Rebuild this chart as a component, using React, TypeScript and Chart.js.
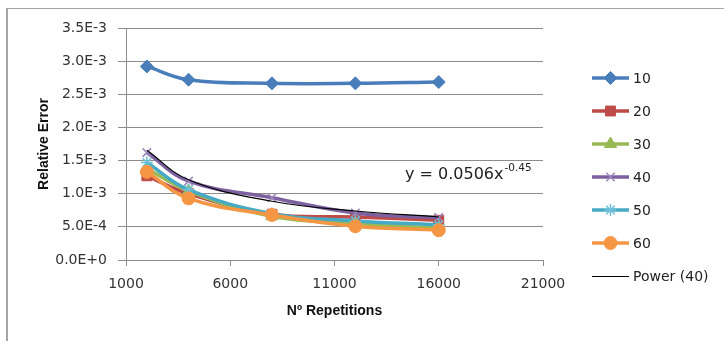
import React, { useEffect, useRef } from 'react';
import { Chart, registerables } from 'chart.js';
import { drawPoint } from 'chart.js/helpers';

Chart.register(...registerables);

const repetitions = [2000, 4000, 8000, 12000, 16000];
const series10 = [2.92e-3, 2.72e-3, 2.665e-3, 2.665e-3, 2.685e-3];
const series20 = [1.27e-3, 1.0e-3, 0.69e-3, 0.65e-3, 0.6e-3];
const series30 = [1.38e-3, 1.04e-3, 0.66e-3, 0.55e-3, 0.48e-3];
const series40 = [1.62e-3, 1.19e-3, 0.94e-3, 0.71e-3, 0.64e-3];
const series50 = [1.47e-3, 1.06e-3, 0.7e-3, 0.59e-3, 0.53e-3];
const series60 = [1.33e-3, 0.93e-3, 0.68e-3, 0.51e-3, 0.45e-3];
const powerTrend40 = [1.655e-3, 1.211e-3, 0.886e-3, 0.739e-3, 0.649e-3];

const seriesLabels = ['10', '20', '30', '40', '50', '60'];
const trendLabel = 'Power (40)';
const trendEquation = 'y = 0.0506x';
const trendExponent = '-0.45';
const xTitle = 'Nº Repetitions';
const yTitle = 'Relative Error';

const colors = ['#4A7EBB', '#BE4B48', '#98B954', '#7D60A0', '#46AAC5', '#F59645'];
const styles = [
  { pointStyle: 'rectRot', radius: 6.5 },
  { pointStyle: 'rect', radius: 7 },
  { pointStyle: 'triangle', radius: 7 },
  { pointStyle: 'crossRot', radius: 6 },
  { pointStyle: 'star', radius: 6 },
  { pointStyle: 'circle', radius: 6.5 },
];

const toXY = (vals: number[]) => vals.map((v, i) => ({ x: repetitions[i], y: v }));

const legendPlugin = {
  id: 'xlLegend',
  afterDraw(chart: any) {
    const ctx = chart.ctx;
    ctx.save();
    ctx.font = '14px "DejaVu Sans"';
    ctx.textBaseline = 'middle';
    ctx.textAlign = 'left';
    chart.data.datasets.forEach((ds: any, i: number) => {
      const y = 78 + i * 33 + (i === 6 ? 0.5 : 0);
      ctx.strokeStyle = ds.borderColor;
      ctx.lineWidth = ds.borderWidth;
      ctx.beginPath();
      ctx.moveTo(592, y);
      ctx.lineTo(629, y);
      ctx.stroke();
      if (ds.pointRadius > 0) {
        ctx.fillStyle = ds.pointBackgroundColor;
        ctx.strokeStyle = ds.pointBorderColor;
        ctx.lineWidth = ds.pointBorderWidth;
        drawPoint(ctx, { pointStyle: ds.pointStyle, radius: ds.pointRadius, borderWidth: ds.pointBorderWidth, rotation: 0 }, 610.5, y);
      }
      ctx.fillStyle = '#222';
      ctx.fillText(ds.label, 633, y + 1);
    });
    ctx.restore();
  },
};

const equationPlugin = {
  id: 'equation',
  afterDatasetsDraw(chart: any) {
    const ctx = chart.ctx;
    ctx.save();
    ctx.fillStyle = '#222';
    ctx.textBaseline = 'alphabetic';
    ctx.font = '16px "DejaVu Sans"';
    ctx.fillText(trendEquation, 405, 179);
    const w = ctx.measureText(trendEquation).width;
    ctx.font = '10.5px "DejaVu Sans"';
    ctx.fillText(trendExponent, 405 + w + 1, 171);
    ctx.restore();
  },
};

export default function App() {
  const ref = useRef<HTMLCanvasElement | null>(null);
  useEffect(() => {
    if (!ref.current) return;
    const all = [series10, series20, series30, series40, series50, series60];
    const datasets: any[] = all.map((vals, i) => ({
      label: seriesLabels[i],
      data: toXY(vals),
      borderColor: colors[i],
      backgroundColor: colors[i],
      borderWidth: 3.5,
      tension: 0.4,
      pointStyle: styles[i].pointStyle,
      pointRadius: styles[i].radius,
      pointHoverRadius: styles[i].radius,
      pointBackgroundColor: colors[i],
      pointBorderColor: i === 3 ? '#9A86BA' : i === 4 ? '#6CC0D8' : colors[i],
      pointBorderWidth: i === 3 || i === 4 ? 1.5 : 1,
      order: 10 - i,
    }));
    datasets.push({
      label: trendLabel,
      data: toXY(powerTrend40),
      borderColor: '#000000',
      backgroundColor: '#000000',
      borderWidth: 1.2,
      tension: 0.4,
      pointRadius: 0,
      pointHoverRadius: 0,
      order: 0,
    });
    const tickFont = { family: '"DejaVu Sans"', size: 14 };
    const chart = new Chart(ref.current, {
      type: 'line',
      data: { datasets },
      plugins: [legendPlugin, equationPlugin],
      options: {
        animation: false,
        responsive: true,
        maintainAspectRatio: false,
        layout: { padding: { top: 28, right: 181, left: 0, bottom: 0 } },
        plugins: { legend: { display: false }, tooltip: { enabled: false } },
        scales: {
          x: {
            type: 'linear',
            min: 1000,
            max: 21000,
            afterFit: (s: any) => { s.height = 81; },
            ticks: { stepSize: 5000, color: '#333', font: tickFont, padding: 10, maxRotation: 0, callback: (v: any) => String(v) },
            grid: { drawOnChartArea: false, drawTicks: true, tickLength: 6, color: '#8c8c8c' },
            border: { color: '#8c8c8c', width: 1 },
            title: { display: true, text: xTitle, color: '#111', font: { family: '"Liberation Sans"', size: 14, weight: 'bold' }, padding: { top: 0, bottom: 21 } },
          },
          y: {
            type: 'linear',
            min: 0,
            max: 3.5e-3,
            afterFit: (s: any) => { s.width = 126; },
            ticks: { stepSize: 5e-4, color: '#333', font: tickFont, padding: 11, callback: (v: any) => Number(v).toExponential(1).toUpperCase() },
            grid: { color: '#8c8c8c', tickLength: 8, drawTicks: true },
            border: { color: '#8c8c8c', width: 1 },
            title: { display: true, text: yTitle, color: '#111', font: { family: '"Liberation Sans"', size: 14, weight: 'bold' }, padding: { top: 36, bottom: 0 } },
          },
        },
      } as any,
    });
    return () => chart.destroy();
  }, []);
  return (
    <div style={{ position: 'fixed', left: 0, top: 0, width: 724, height: 341, background: '#fff' }}>
      <div style={{ position: 'absolute', left: 6, top: 8, width: 718, height: 333, borderLeft: '2px solid #a6a6a6', borderTop: '1px solid #a6a6a6', boxSizing: 'border-box' }} />
      <div style={{ position: 'absolute', left: 0, top: 0, width: 724, height: 341 }}>
        <canvas ref={ref} />
      </div>
    </div>
  );
}
